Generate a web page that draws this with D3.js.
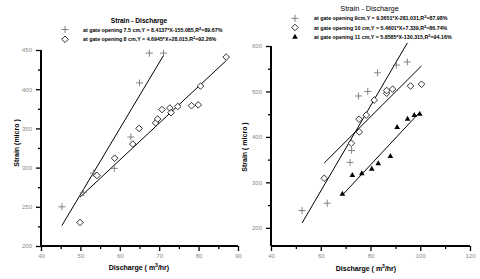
<!DOCTYPE html>
<html><head><meta charset="utf-8">
<script src="https://cdn.jsdelivr.net/npm/d3@7"></script>
<style>
html,body{margin:0;padding:0;background:#fff;}
svg{display:block;font-family:"Liberation Sans",Arial,sans-serif;}
</style></head>
<body><svg id="c" width="480" height="279"></svg>
<script>
// ---- data ----
const leftXTicks = [40, 50, 60, 70, 80, 90];
const leftYTicks = [200, 250, 300, 350, 400, 450];
const rightXTicks = [40, 60, 80, 100, 120];
const rightYTicks = [200, 300, 400, 500, 600];

const leftCrossX = [45.3, 50.8, 53.3, 58.6, 62.8, 65.0, 67.5, 71.1];
const leftCrossY = [250, 268, 293, 299, 339, 408, 446, 446];
const leftDiamondX = [49.9, 54.2, 58.7, 63.3, 64.9, 69.1, 69.6, 70.7, 72.7, 73.0, 74.7, 78.2, 79.9, 80.5, 87.0];
const leftDiamondY = [230, 290, 312, 330, 350, 357, 362, 374, 376, 370, 378, 379, 380, 404, 441];

const rightCrossX = [52.5, 62.6, 71.8, 72.4, 75.2, 78.9, 82.8, 90.4, 94.8];
const rightCrossY = [238, 254, 344, 370, 490, 500, 541, 558, 565];
const rightDiamondX = [61.4, 72.3, 75.5, 75.4, 78.3, 81.5, 86.5, 86.5, 88.9, 96.1, 100.5];
const rightDiamondY = [309, 386, 411, 439, 448, 481, 496, 502, 505, 512, 516];
const rightTriX = [68.7, 72.7, 76.5, 80.5, 83.1, 88.0, 90.7, 94.9, 97.6, 99.8];
const rightTriY = [275, 316, 320, 330, 342, 358, 422, 440, 448, 451];

// regression: [slope, intercept]
const leftFits = [[8.4137, -155.085], [4.6945, 28.015]];
const rightFits = [[9.3651, -281.031], [5.4601, 7.339], [5.8585, -130.315]];

const leftLegend = [
  ["at gate opening 7.5 cm,Y = 8.4137*X-155.085,R", "=89.67%"],
  ["at gate opening 8 cm,Y = 4.6945*X+28.015,R", "=92.26%"]
];
const rightLegend = [
  ["at gate opening 9cm,Y = 9.3651*X-281.031,R", "=87.98%"],
  ["at gate opening 10 cm,Y = 5.4601*X+7.339,R", "=86.74%"],
  ["at gate opening 11 cm,Y = 5.8585*X-130.315,R", "=94.16%"]
];

const svg = d3.select("#c");
const zip = (a, b) => a.map((v, i) => [v, b[i]]);

function panel(o) {
  const g = svg.append("g");
  const x = d3.scaleLinear().domain(o.xd).range(o.xr);
  const y = d3.scaleLinear().domain(o.yd).range(o.yr);

  // minor ticks
  const xa = d3.axisBottom(x).tickValues(o.xMinor).tickSize(3).tickFormat("");
  const ya = d3.axisLeft(y).tickValues(o.yMinor).tickSize(3).tickFormat("");
  g.append("g").attr("transform", `translate(0,${o.yr[0]})`).call(xa);
  g.append("g").attr("transform", `translate(${o.xr[0]},0)`).call(ya);
  // major ticks
  const xA = g.append("g").attr("transform", `translate(0,${o.yr[0]})`)
    .call(d3.axisBottom(x).tickValues(o.xt).tickSize(5).tickPadding(3));
  const yA = g.append("g").attr("transform", `translate(${o.xr[0]},0)`)
    .call(d3.axisLeft(y).tickValues(o.yt).tickSize(5).tickPadding(4));
  g.selectAll(".domain").attr("stroke", "#000").attr("stroke-width", 2);
  g.selectAll(".tick line").attr("stroke", "#000").attr("stroke-width", 1.3);
  g.selectAll(".tick text").attr("fill", "#888").style("font-size", "6px").style("font-family", "Liberation Sans, Arial, sans-serif");
  g.selectAll(".domain").attr("d", function() {
    return d3.select(this.parentNode).attr("transform").includes(`translate(0,`) ?
      `M${o.xr[0]},0H${o.xr[1]}` : `M0,${o.yr[0]}V${o.yr[1]}`;
  });

  // regression lines
  o.fits.forEach((f, i) => {
    const xs = o.series[i].xs;
    const x0 = d3.min(xs), x1 = d3.max(xs);
    g.append("line")
      .attr("x1", x(x0)).attr("y1", y(f[0] * x0 + f[1]))
      .attr("x2", x(x1)).attr("y2", y(f[0] * x1 + f[1]))
      .attr("stroke", "#000").attr("stroke-width", 1);
  });

  // points
  o.series.forEach(s => {
    drawMarks(g, zip(s.xs, s.ys).map(d => [x(d[0]), y(d[1])]), s.type);
  });

  // title
  g.append("text").attr("x", o.titleX).attr("y", o.titleY).attr("text-anchor", "middle")
    .style("font-size", o.titleSize).style("font-weight", o.titleWeight).text("Strain - Discharge");

  // legend
  o.legend.forEach((t, i) => {
    const ly = o.legY + i * o.legStep;
    drawMarks(g, [[o.legSymX, ly]], o.series[i].type);
    const tx = g.append("text").attr("x", o.legTextX).attr("y", ly + 2)
      .style("font-size", "5.3px").style("font-weight", "bold");
    tx.append("tspan").text(t[0]);
    tx.append("tspan").attr("dy", -2).style("font-size", "4px").text("2");
    tx.append("tspan").attr("dy", 2).text(t[1]);
  });

  // axis labels
  const xl = g.append("text").attr("x", o.xLabX).attr("y", o.xLabY).attr("text-anchor", "middle")
    .style("font-size", "7px").style("font-weight", "bold");
  xl.append("tspan").text("Discharge ( m");
  xl.append("tspan").attr("dy", -3).style("font-size", "5px").text("3");
  xl.append("tspan").attr("dy", 3).text("/hr)");
  g.append("text").attr("transform", `translate(${o.yLabX},${o.yLabY}) rotate(-90)`)
    .attr("text-anchor", "middle").style("font-size", "7px").style("font-weight", "bold")
    .text(o.yLabel);
}

function drawMarks(g, pts, type) {
  pts.forEach(([px, py]) => {
    if (type === "cross") {
      g.append("path").attr("d", `M${px - 3.5},${py}H${px + 3.5}M${px},${py - 3.5}V${py + 3.5}`)
        .attr("stroke", "#777").attr("stroke-width", 0.9).attr("fill", "none");
    } else if (type === "diamond") {
      g.append("path").attr("d", `M${px},${py - 3.3}L${px + 3.3},${py}L${px},${py + 3.3}L${px - 3.3},${py}Z`)
        .attr("stroke", "#000").attr("stroke-width", 0.8).attr("fill", "#fff");
    } else {
      g.append("path").attr("d", `M${px},${py - 3}L${px + 2.8},${py + 2}L${px - 2.8},${py + 2}Z`)
        .attr("fill", "#000");
    }
  });
}

panel({
  xd: [40, 90], xr: [41, 238], yd: [200, 450], yr: [246, 50],
  xt: leftXTicks, yt: leftYTicks,
  xMinor: [45, 55, 65, 75, 85], yMinor: [225, 275, 325, 375, 425],
  fits: leftFits,
  series: [
    {xs: leftCrossX, ys: leftCrossY, type: "cross"},
    {xs: leftDiamondX, ys: leftDiamondY, type: "diamond"}
  ],
  titleX: 139, titleY: 23, titleSize: "6.6px", titleWeight: "bold",
  legend: leftLegend, legY: 29.5, legStep: 9.8, legSymX: 65, legTextX: 83,
  xLabX: 139, xLabY: 270, yLabX: 19, yLabY: 143, yLabel: "Strain (micro )"
});

panel({
  xd: [40, 120], xr: [271, 470], yd: [160, 600], yr: [246, 46],
  xt: rightXTicks, yt: rightYTicks,
  xMinor: [50, 70, 90, 110], yMinor: [250, 350, 450, 550],
  fits: rightFits,
  series: [
    {xs: rightCrossX, ys: rightCrossY, type: "cross"},
    {xs: rightDiamondX, ys: rightDiamondY, type: "diamond"},
    {xs: rightTriX, ys: rightTriY, type: "tri"}
  ],
  titleX: 369.5, titleY: 11, titleSize: "7.3px", titleWeight: "normal",
  legend: rightLegend, legY: 18.3, legStep: 9.2, legSymX: 295, legTextX: 314,
  xLabX: 366, xLabY: 271, yLabX: 247, yLabY: 147, yLabel: "Strain ( micro )"
});
</script></body></html>
